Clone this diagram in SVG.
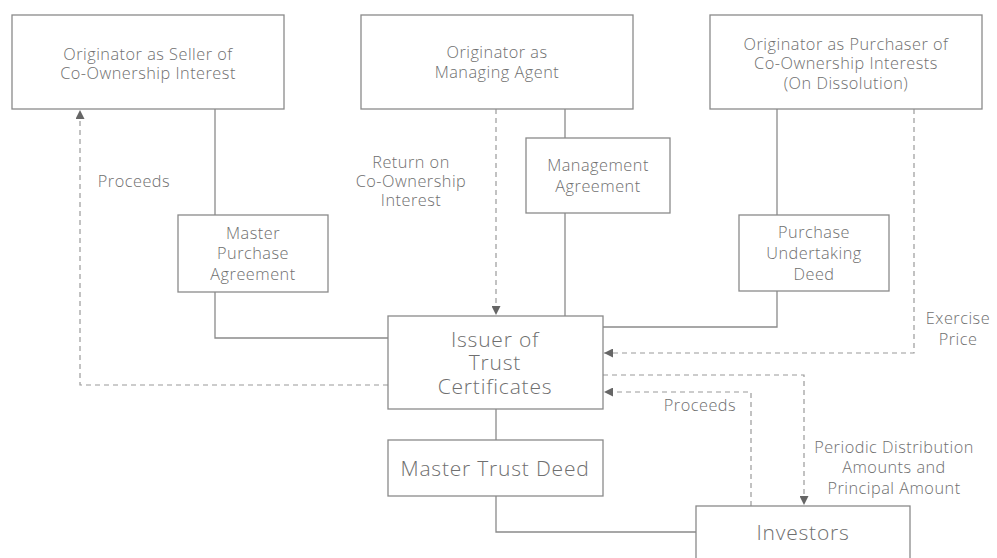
<svg xmlns="http://www.w3.org/2000/svg" width="997" height="558" viewBox="0 0 997 558">
<defs>
<style>
.box{fill:#fff;stroke:#8a8a8a;stroke-width:1.3}
.t{font-family:"Open Sans","Liberation Sans",sans-serif;font-weight:300;font-size:16.3px;letter-spacing:0.5px;fill:#6f6f6f;text-anchor:middle;dominant-baseline:central}
.big{font-size:21px;letter-spacing:0.8px}
.sol{fill:none;stroke:#8a8a8a;stroke-width:1.3}
.dash{fill:none;stroke:#9a9a9a;stroke-width:1.2;stroke-dasharray:5 4}
</style>
<marker id="ah" viewBox="0 0 10 10" refX="10" refY="5" markerWidth="9" markerHeight="9" markerUnits="userSpaceOnUse" orient="auto">
<path d="M0,0 L10,5 L0,10 Z" fill="#666"/>
</marker>
</defs>
<rect width="997" height="558" fill="#fff"/>
<g id="connectors">
<path class="sol" d="M215,109 V215"/>
<path class="sol" d="M215,292 V338 H388"/>
<path class="dash" d="M388,385 H80 V110" marker-end="url(#ah)"/>
<path class="dash" d="M496,109 V315" marker-end="url(#ah)"/>
<path class="sol" d="M565,109 V138"/>
<path class="sol" d="M565,213 V316"/>
<path class="sol" d="M777,109 V215"/>
<path class="sol" d="M777,291 V327 H603"/>
<path class="dash" d="M914,109 V353 H604" marker-end="url(#ah)"/>
<path class="dash" d="M603,375 H804 V505" marker-end="url(#ah)"/>
<path class="dash" d="M751,506 V392 H604" marker-end="url(#ah)"/>
<path class="sol" d="M496,409 V440"/>
<path class="sol" d="M496,496 V532 H696"/>
</g>
<g id="labels">
<text class="t" x="134" y="181">Proceeds</text>
<text class="t" x="411" y="162">Return on</text>
<text class="t" x="411" y="181">Co-Ownership</text>
<text class="t" x="411" y="200">Interest</text>
<text class="t" x="958" y="318">Exercise</text>
<text class="t" x="958" y="339">Price</text>
<text class="t" x="700" y="405">Proceeds</text>
<text class="t" x="894" y="447">Periodic Distribution</text>
<text class="t" x="894" y="467">Amounts and</text>
<text class="t" x="894" y="488">Principal Amount</text>
</g>
<g id="seller">
<rect class="box" x="12" y="15" width="272" height="94"/>
<text class="t" x="148" y="54">Originator as Seller of</text>
<text class="t" x="148" y="73">Co-Ownership Interest</text>
</g>
<g id="agent">
<rect class="box" x="361" y="15" width="272" height="94"/>
<text class="t" x="497" y="52">Originator as</text>
<text class="t" x="497" y="72">Managing Agent</text>
</g>
<g id="purchaser">
<rect class="box" x="710" y="15" width="272" height="94"/>
<text class="t" x="846" y="44">Originator as Purchaser of</text>
<text class="t" x="846" y="63">Co-Ownership Interests</text>
<text class="t" x="846" y="83">(On Dissolution)</text>
</g>
<g id="mgmt">
<rect class="box" x="526" y="138" width="144" height="75"/>
<text class="t" x="598" y="165">Management</text>
<text class="t" x="598" y="186">Agreement</text>
</g>
<g id="mpa">
<rect class="box" x="178" y="215" width="150" height="77"/>
<text class="t" x="253" y="233">Master</text>
<text class="t" x="253" y="253">Purchase</text>
<text class="t" x="253" y="274">Agreement</text>
</g>
<g id="pud">
<rect class="box" x="739" y="215" width="150" height="76"/>
<text class="t" x="814" y="232">Purchase</text>
<text class="t" x="814" y="253">Undertaking</text>
<text class="t" x="814" y="274">Deed</text>
</g>
<g id="issuer">
<rect class="box" x="388" y="316" width="215" height="93"/>
<text class="t big" x="495" y="339">Issuer of</text>
<text class="t big" x="495" y="362">Trust</text>
<text class="t big" x="495" y="386">Certificates</text>
</g>
<g id="mtd">
<rect class="box" x="388" y="440" width="215" height="56"/>
<text class="t big" x="495" y="468">Master Trust Deed</text>
</g>
<g id="investors">
<rect class="box" x="696" y="506" width="214" height="70"/>
<text class="t big" x="803" y="532">Investors</text>
</g>
</svg>
